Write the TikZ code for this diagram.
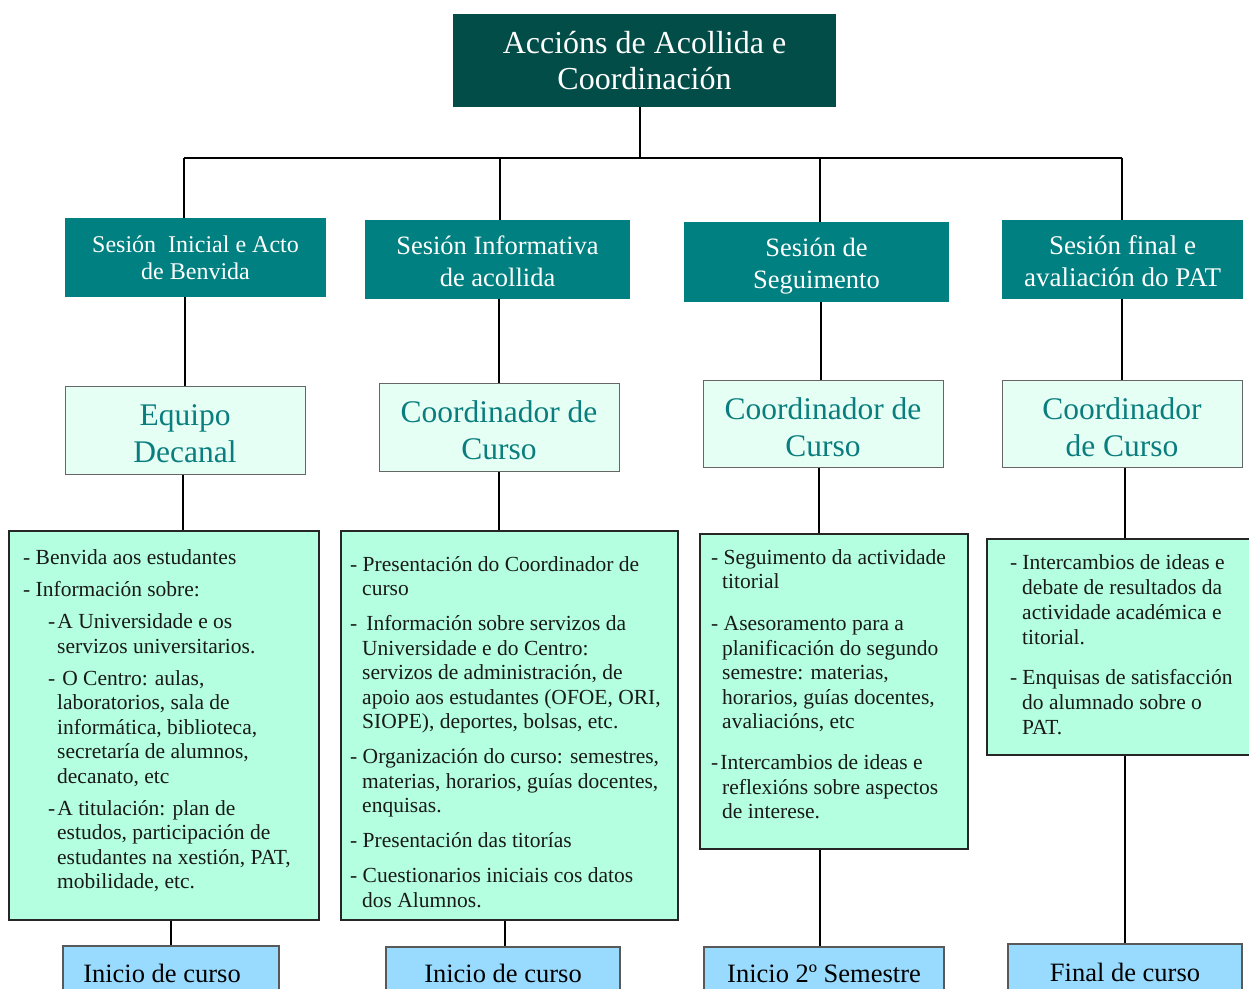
\documentclass[tikz,border=0pt]{standalone}
\usepackage{fontspec}
\setmainfont{Liberation Serif}
\definecolor{titlecol}{HTML}{024D47}
\definecolor{hdrcol}{HTML}{008080}
\definecolor{coordfill}{HTML}{E6FFF5}
\definecolor{coordtext}{HTML}{0A7E7E}
\definecolor{contentfill}{HTML}{B3FFE0}
\definecolor{bottomfill}{HTML}{99DBFF}
\begin{document}
\begin{tikzpicture}[x=1pt,y=-1pt,
  titlebox/.style={fill=titlecol, text=white, inner sep=0pt, align=center,
    font=\fontsize{32}{36}\selectfont},
  hdr/.style={fill=hdrcol, text=white, inner sep=0pt, align=center,
    font=\fontsize{26.5}{32}\selectfont},
  coordbox/.style={draw=black!60, fill=coordfill, text=coordtext, line width=1pt,
    inner sep=0pt, align=center, font=\fontsize{31.5}{37}\selectfont},
  contentbox/.style={draw=black!85, fill=contentfill, line width=1.2pt, inner sep=0pt},
  ctext/.style={anchor=north west, inner sep=0pt, align=left, text=black!90,
    font=\fontsize{21.5}{24.5}\selectfont},
  bottombox/.style={draw=black!65, fill=bottomfill, line width=1.2pt, inner sep=0pt,
    font=\fontsize{26.5}{30}\selectfont},
  conn/.style={draw=black, line width=1.6pt}
]
\useasboundingbox (0,0) rectangle (1249,988);

% top
\node[titlebox, minimum width=383pt, minimum height=93pt] (title) at (644.5,60.5)
  {Accións de Acollida e\\Coordinación};

% headers
\node[hdr, minimum width=261pt, minimum height=79pt, font=\fontsize{24}{27}\selectfont]
  (h1) at (195.5,257.5) {Sesión~ Inicial e Acto\\de Benvida};
\node[hdr, minimum width=265pt, minimum height=79pt] (h2) at (497.5,259.5)
  {\rule{0pt}{23pt}Sesión Informativa\\de acollida};
\node[hdr, minimum width=265pt, minimum height=80pt] (h3) at (816.5,262)
  {\rule{0pt}{27pt}Sesión de\\Seguimento};
\node[hdr, minimum width=241pt, minimum height=79pt, font=\fontsize{27}{32}\selectfont] (h4) at (1122.5,259.5)
  {\rule{0pt}{23pt}Sesión final e\\avaliación do PAT};

% coordinators
\node[coordbox, minimum width=240pt, minimum height=88pt] (c1) at (185,430) {\rule{0pt}{28pt}Equipo\\Decanal};
\node[coordbox, minimum width=240pt, minimum height=88pt] (c2) at (499,427) {\rule{0pt}{28pt}Coordinador de\\Curso};
\node[coordbox, minimum width=240pt, minimum height=87pt] (c3) at (823,423.5) {\rule{0pt}{29.5pt}Coordinador de\\Curso};
\node[coordbox, minimum width=240pt, minimum height=87pt] (c4) at (1122,423.5) {\rule{0pt}{29.5pt}Coordinador\\de Curso};

% content boxes
\node[contentbox, minimum width=310pt, minimum height=389pt] (b1) at (164,725.5) {};
\node[contentbox, minimum width=337pt, minimum height=389pt] (b2) at (509.5,725.5) {};
\node[contentbox, minimum width=268pt, minimum height=315pt] (b3) at (834,691.5) {};
\node[contentbox, minimum width=265pt, minimum height=216pt] (b4) at (1119.5,647) {};

\node[ctext] (t1) at (23,546.9) {\strut- Benvida aos estudantes\\[8pt]
- Información sobre:\\[7.5pt]
\hspace*{25pt}-\hspace{2pt}A Universidade e os\\
\hspace*{34pt}servizos universitarios.\\[7.5pt]
\hspace*{25pt}-\hspace{7pt}O Centro: aulas,\\
\hspace*{34pt}laboratorios, sala de\\
\hspace*{34pt}informática, biblioteca,\\
\hspace*{34pt}secretaría de alumnos,\\
\hspace*{34pt}decanato, etc\\[7.5pt]
\hspace*{25pt}-\hspace{2pt}A titulación: plan de\\
\hspace*{34pt}estudos, participación de\\
\hspace*{34pt}estudantes na xestión, PAT,\\
\hspace*{34pt}mobilidade, etc.};

\node[ctext] (t2) at (350,553.9) {\strut- Presentación do Coordinador de\\
\hspace*{12pt}curso\\[10.5pt]
-\hspace{9pt}Información sobre servizos da\\
\hspace*{12pt}Universidade e do Centro:\\
\hspace*{12pt}servizos de administración, de\\
\hspace*{12pt}apoio aos estudantes (OFOE, ORI,\\
\hspace*{12pt}SIOPE), deportes, bolsas, etc.\\[10.5pt]
- Organización do curso: semestres,\\
\hspace*{12pt}materias, horarios, guías docentes,\\
\hspace*{12pt}enquisas.\\[10.5pt]
- Presentación das titorías\\[10.5pt]
- Cuestionarios iniciais cos datos\\
\hspace*{12pt}dos Alumnos.};

\node[ctext] (t3) at (711,546.9) {\strut- Seguimento da actividade\\
\hspace*{11pt}titorial\\[17.5pt]
- Asesoramento para a\\
\hspace*{11pt}planificación do segundo\\
\hspace*{11pt}semestre: materias,\\
\hspace*{11pt}horarios, guías docentes,\\
\hspace*{11pt}avaliacións, etc\\[16.5pt]
-\hspace{2pt}Intercambios de ideas e\\
\hspace*{11pt}reflexións sobre aspectos\\
\hspace*{11pt}de interese.};

\node[ctext, font=\fontsize{21.5}{25}\selectfont] (t4) at (1010,551.9) {\strut-\hspace{5pt}Intercambios de ideas e\\
\hspace*{12pt}debate de resultados da\\
\hspace*{12pt}actividade académica e\\
\hspace*{12pt}titorial.\\[14.5pt]
-\hspace{5pt}Enquisas de satisfacción\\
\hspace*{12pt}do alumnado sobre o\\
\hspace*{12pt}PAT.};

% bottom boxes
\node[bottombox, minimum width=216pt, minimum height=54pt] (d1) at (171,973) {Inicio de curso\kern18pt\relax};
\node[bottombox, minimum width=234pt, minimum height=53pt] (d2) at (503,973.5) {Inicio de curso};
\node[bottombox, minimum width=240pt, minimum height=53pt] (d3) at (824,973.5) {Inicio 2º Semestre};
\node[bottombox, minimum width=234pt, minimum height=56pt] (d4) at (1125,972) {Final de curso};

% connectors
\coordinate (j0) at (640,158);
\coordinate (j1) at (184,158);
\coordinate (j2) at (500,158);
\coordinate (j3) at (820,158);
\coordinate (j4) at (1122,158);
\draw[conn] (title.south -| j0) -- (j0);
\draw[conn] (j1) -- (j4);
\draw[conn] (j1) -- (j1 |- h1.north);
\draw[conn] (j2) -- (j2 |- h2.north);
\draw[conn] (j3) -- (j3 |- h3.north);
\draw[conn] (j4) -- (j4 |- h4.north);

\draw[conn] (h1.south -| c1.north) -- (c1.north);
\draw[conn] (h2.south -| c2.north) -- (c2.north);
\draw[conn] ([xshift=-2pt]h3.south -| c3.north) -- ([xshift=-2pt]c3.north);
\draw[conn] (h4.south -| c4.north) -- (c4.north);

\draw[conn] ([xshift=-2pt]c1.south) -- ([xshift=-2pt]c1.south |- b1.north);
\draw[conn] (c2.south) -- (c2.south |- b2.north);
\draw[conn] ([xshift=-4pt]c3.south) -- ([xshift=-4pt]c3.south |- b3.north);
\draw[conn] ([xshift=3pt]c4.south) -- ([xshift=3pt]c4.south |- b4.north);

\draw[conn] (d1.north |- b1.south) -- (d1.north);
\draw[conn] ([xshift=2pt]d2.north |- b2.south) -- ([xshift=2pt]d2.north);
\draw[conn] ([xshift=-4pt]d3.north |- b3.south) -- ([xshift=-4pt]d3.north);
\draw[conn] (d4.north |- b4.south) -- (d4.north);
\end{tikzpicture}
\end{document}
